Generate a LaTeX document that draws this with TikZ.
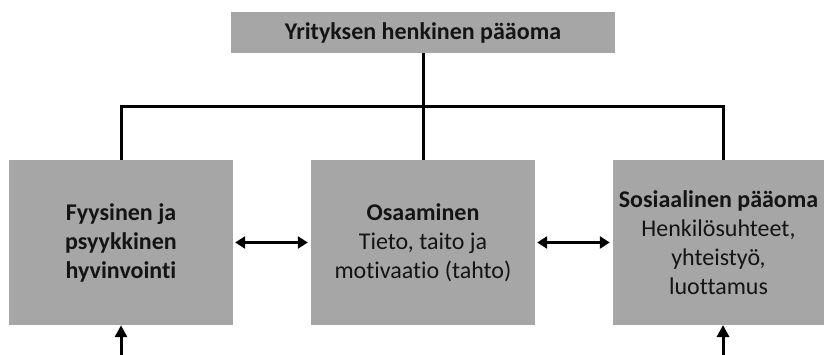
\documentclass[tikz,border=0pt]{standalone}
\usepackage{fontspec}
\setmainfont{Carlito}[Ligatures={NoCommon}]
\usetikzlibrary{arrows.meta}
\definecolor{boxgray}{HTML}{A6A6A6}
\definecolor{inkdark}{HTML}{141414}
\tikzset{
  box/.style={draw=none, fill=boxgray, inner sep=0pt, align=center,
    text=inkdark, font=\fontsize{24}{29}\selectfont},
  link/.style={line width=3pt, draw=black},
  twoway/.style={link, {Triangle[length=10pt,width=12pt]}-{Triangle[length=10pt,width=12pt]},
    shorten <=2pt, shorten >=3pt},
  upward/.style={link, -{Triangle[length=12pt,width=12pt]}}
}
\begin{document}
\begin{tikzpicture}[x=1pt, y=-1pt]
  \useasboundingbox (0,0) rectangle (824,355);
  % top level: the whole
  \node[box, minimum width=384pt, minimum height=41pt] (top) at (423,32.5)
    {\textbf{Yrityksen henkinen pääoma}};
  % the three components
  \node[box, minimum width=224pt, minimum height=165pt] (left) at (121,242.5)
    {\textbf{Fyysinen ja}\\\textbf{psyykkinen}\\\textbf{hyvinvointi}};
  \node[box, minimum width=224pt, minimum height=165pt] (mid) at (423,242.5)
    {\textbf{Osaaminen}\\Tieto, taito ja\\motivaatio (tahto)};
  \node[box, minimum width=211pt, minimum height=165pt] (right) at (718.5,242.5)
    {\textbf{Sosiaalinen pääoma}\\Henkilösuhteet,\\yhteistyö,\\luottamus};
  % tree connectors
  \coordinate (bus) at (423,107);
  \coordinate (rdrop) at (723,160);
  \draw[link] (top.south) -- (mid.north);
  \draw[link] (left.north) |- (bus) -| (rdrop);
  % mutual links between components
  \draw[twoway] (left.east) -- (mid.west);
  \draw[twoway] (mid.east) -- (right.west);
  % inputs from below
  \coordinate (lin) at (121,355);
  \coordinate (rin) at (723,355);
  \coordinate (rbot) at (723,325);
  \draw[upward] (lin) -- (left.south);
  \draw[upward] (rin) -- (rbot);
\end{tikzpicture}
\end{document}
